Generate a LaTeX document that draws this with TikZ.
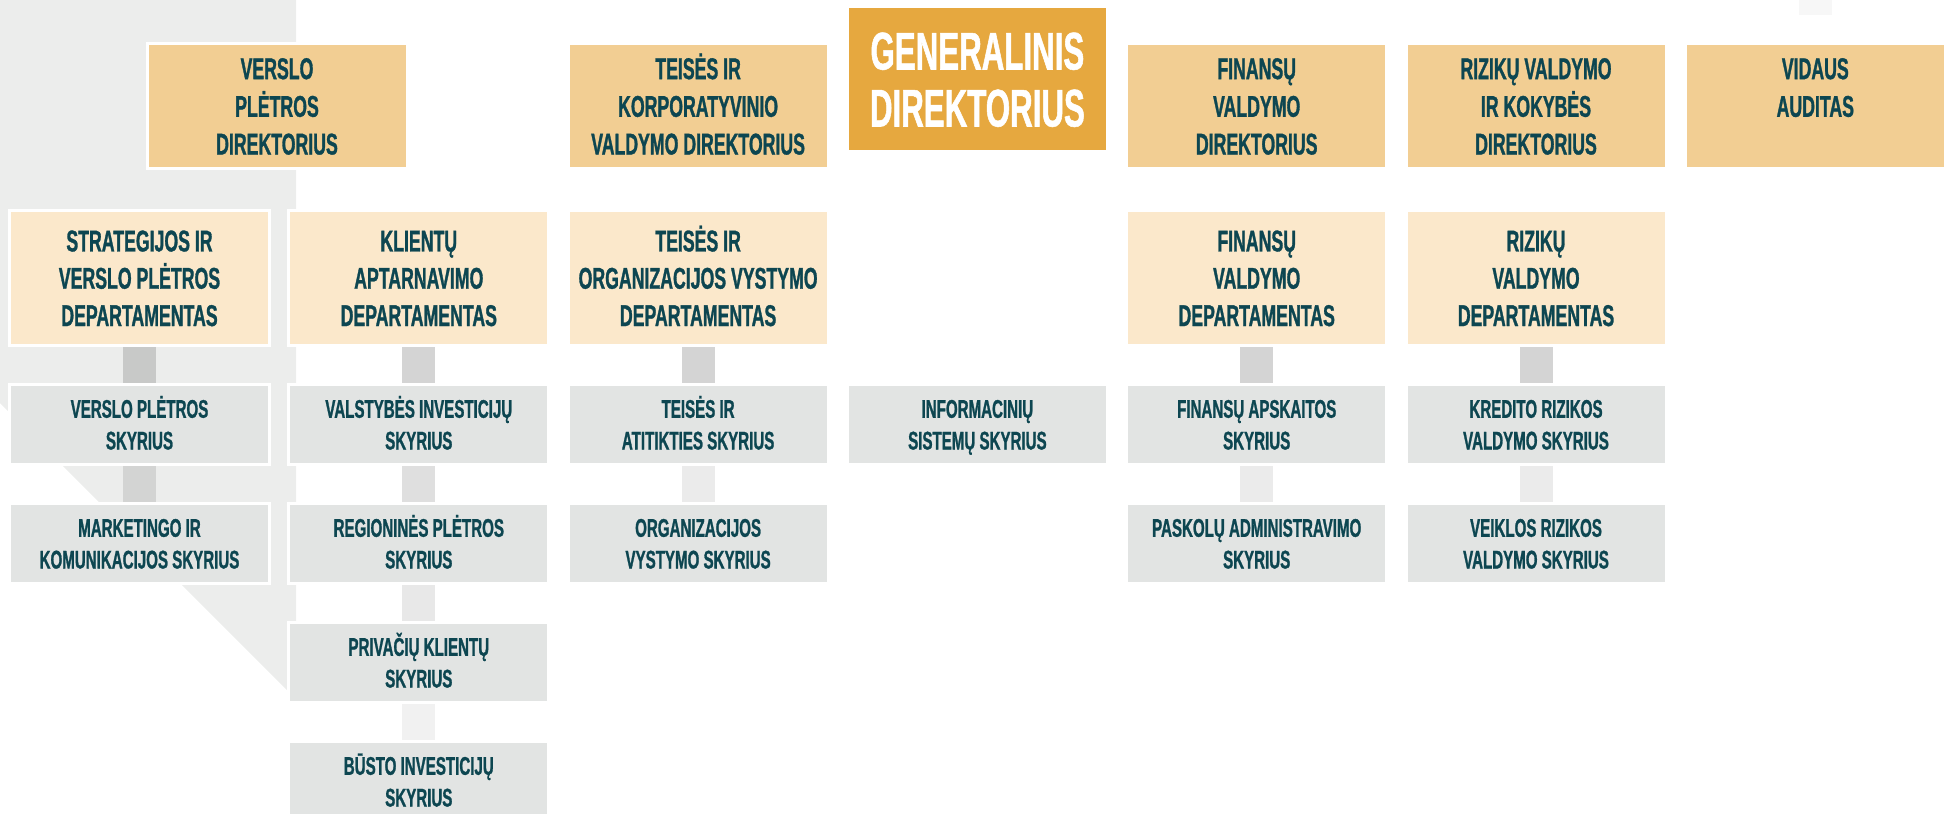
\documentclass[tikz,border=0pt]{standalone}
\usepackage{fontspec}
\setmainfont{Liberation Sans}[FakeStretch=0.59,FakeBold=1]
\definecolor{dirc}{HTML}{F2CE93}
\definecolor{genc}{HTML}{E6A83F}
\definecolor{depc}{HTML}{FBE8CB}
\definecolor{subc}{HTML}{E2E4E3}
\definecolor{txtc}{HTML}{0D4651}
\definecolor{bandc}{HTML}{ECEDEC}
\begin{document}
\begin{tikzpicture}[x=1pt,y=-1pt,
  box/.style={rectangle, inner sep=0pt, outer sep=0pt, minimum width=260pt,
    align=center, text=txtc, draw=white, line width=3pt},
  dirbox/.style={box, fill=dirc, minimum height=125pt,
    font=\fontsize{30pt}{37.7pt}\selectfont\bfseries, text height=97pt, text depth=0pt},
  audbox/.style={dirbox, text height=59.3pt, text depth=37.7pt},
  genbox/.style={box, fill=genc, draw=none, minimum width=257pt, minimum height=142pt, text=white,
    font=\fontsize{53pt}{57pt}\selectfont\bfseries, text height=95pt, text depth=0pt},
  depbox/.style={box, fill=depc, minimum height=135pt,
    font=\fontsize{30pt}{37.3pt}\selectfont\bfseries, text height=96pt, text depth=0pt},
  subbox/.style={box, fill=subc, minimum height=80pt,
    font=\fontsize{25.6pt}{31.7pt}\selectfont\bfseries, text height=50pt, text depth=0pt},
  conn/.style={fill=black, fill opacity=#1}
]
\clip (0,0) rectangle (1944,814);
% background band
\fill[bandc] (0,0) -- (296,0) -- (296,699) -- (0,403) -- cycle;

% directors
\node[dirbox] (dv) at (277,106) {VERSLO\\PLĖTROS\\DIREKTORIUS};
\node[dirbox] (dt) at (698.1,106) {TEISĖS IR\\KORPORATYVINIO\\VALDYMO DIREKTORIUS};
\node[genbox] (gd) at (977.4,79) {GENERALINIS\\DIREKTORIUS};
\node[dirbox] (df) at (1256.7,106) {FINANSŲ\\VALDYMO\\DIREKTORIUS};
\node[dirbox] (dr) at (1536,106) {RIZIKŲ VALDYMO\\IR KOKYBĖS\\DIREKTORIUS};
\node[audbox] (da) at (1815.3,106) {VIDAUS\\AUDITAS};

% departments
\node[depbox] (p0) at (139.5,278) {STRATEGIJOS IR\\VERSLO PLĖTROS\\DEPARTAMENTAS};
\node[depbox] (p1) at (418.8,278) {KLIENTŲ\\APTARNAVIMO\\DEPARTAMENTAS};
\node[depbox] (p2) at (698.1,278) {TEISĖS IR\\ORGANIZACIJOS VYSTYMO\\DEPARTAMENTAS};
\node[depbox] (p4) at (1256.7,278) {FINANSŲ\\VALDYMO\\DEPARTAMENTAS};
\node[depbox] (p5) at (1536,278) {RIZIKŲ\\VALDYMO\\DEPARTAMENTAS};

% sections
\node[subbox] (s01) at (139.5,424.5) {VERSLO PLĖTROS\\SKYRIUS};
\node[subbox] (s02) at (139.5,543.5) {MARKETINGO IR\\KOMUNIKACIJOS SKYRIUS};
\node[subbox] (s11) at (418.8,424.5) {VALSTYBĖS INVESTICIJŲ\\SKYRIUS};
\node[subbox] (s12) at (418.8,543.5) {REGIONINĖS PLĖTROS\\SKYRIUS};
\node[subbox] (s13) at (418.8,662.5) {PRIVAČIŲ KLIENTŲ\\SKYRIUS};
\node[subbox] (s14) at (418.8,781.5) {BŪSTO INVESTICIJŲ\\SKYRIUS};
\node[subbox] (s21) at (698.1,424.5) {TEISĖS IR\\ATITIKTIES SKYRIUS};
\node[subbox] (s22) at (698.1,543.5) {ORGANIZACIJOS\\VYSTYMO SKYRIUS};
\node[subbox] (s31) at (977.4,424.5) {INFORMACINIŲ\\SISTEMŲ SKYRIUS};
\node[subbox] (s41) at (1256.7,424.5) {FINANSŲ APSKAITOS\\SKYRIUS};
\node[subbox] (s42) at (1256.7,543.5) {PASKOLŲ ADMINISTRAVIMO\\SKYRIUS};
\node[subbox] (s51) at (1536,424.5) {KREDITO RIZIKOS\\VALDYMO SKYRIUS};
\node[subbox] (s52) at (1536,543.5) {VEIKLOS RIZIKOS\\VALDYMO SKYRIUS};

% connectors
\fill[conn=0.15] ([xshift=-16.5pt,yshift=-1.2pt]p0.south) rectangle ([xshift=16.5pt,yshift=1.2pt]s01.north);
\fill[conn=0.10] ([xshift=-16.5pt,yshift=-1.2pt]s01.south) rectangle ([xshift=16.5pt,yshift=1.2pt]s02.north);
\fill[conn=0.17] ([xshift=-16.5pt,yshift=-1.2pt]p1.south) rectangle ([xshift=16.5pt,yshift=1.2pt]s11.north);
\fill[conn=0.125] ([xshift=-16.5pt,yshift=-1.2pt]s11.south) rectangle ([xshift=16.5pt,yshift=1.2pt]s12.north);
\fill[conn=0.09] ([xshift=-16.5pt,yshift=-1.2pt]s12.south) rectangle ([xshift=16.5pt,yshift=1.2pt]s13.north);
\fill[conn=0.055] ([xshift=-16.5pt,yshift=-1.2pt]s13.south) rectangle ([xshift=16.5pt,yshift=1.2pt]s14.north);
\fill[conn=0.17] ([xshift=-16.5pt,yshift=-1.2pt]p2.south) rectangle ([xshift=16.5pt,yshift=1.2pt]s21.north);
\fill[conn=0.08] ([xshift=-16.5pt,yshift=-1.2pt]s21.south) rectangle ([xshift=16.5pt,yshift=1.2pt]s22.north);
\fill[conn=0.17] ([xshift=-16.5pt,yshift=-1.2pt]p4.south) rectangle ([xshift=16.5pt,yshift=1.2pt]s41.north);
\fill[conn=0.08] ([xshift=-16.5pt,yshift=-1.2pt]s41.south) rectangle ([xshift=16.5pt,yshift=1.2pt]s42.north);
\fill[conn=0.17] ([xshift=-16.5pt,yshift=-1.2pt]p5.south) rectangle ([xshift=16.5pt,yshift=1.2pt]s51.north);
\fill[conn=0.08] ([xshift=-16.5pt,yshift=-1.2pt]s51.south) rectangle ([xshift=16.5pt,yshift=1.2pt]s52.north);
\coordinate (atop) at (1815.3,0);
\fill[conn=0.03] ([xshift=-16.5pt]atop) rectangle ([xshift=16.5pt,yshift=28.5pt]da.north);
\end{tikzpicture}
\end{document}
